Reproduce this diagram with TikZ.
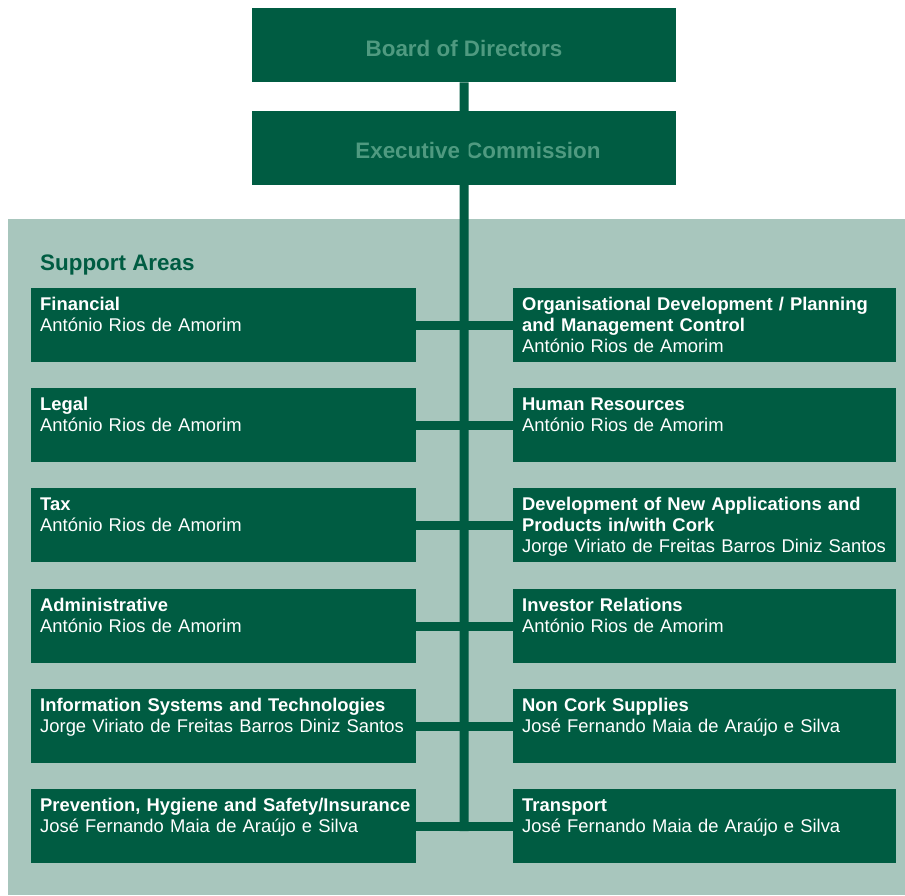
\documentclass[tikz,border=0pt]{standalone}
\usepackage{fontspec}
\setmainfont{Liberation Sans}
\usetikzlibrary{calc}
\definecolor{corkgreen}{HTML}{005C42}
\definecolor{panelgreen}{HTML}{A8C6BD}
\definecolor{titlegreen}{HTML}{4F9A80}
\begin{document}
\begin{tikzpicture}[x=1pt,y=-1pt,
  topbox/.style={fill=corkgreen, draw=none, anchor=north west, inner sep=0pt,
    minimum width=424pt, minimum height=74pt},
  unitbox/.style={fill=corkgreen, draw=none, anchor=north west, inner sep=0pt,
    minimum height=74pt},
  leftbox/.style={unitbox, minimum width=385pt},
  rightbox/.style={unitbox, minimum width=383pt},
  toptitle/.style={anchor=base, inner sep=0pt, text=titlegreen,
    font=\fontsize{22.4}{26}\selectfont\bfseries},
  unittext/.style={anchor=base west, inner sep=0pt, text=white, align=left,
    text width=380pt, font=\fontsize{18.4}{21}\selectfont},
  link/.style={draw=corkgreen, line width=9pt, line cap=butt}
]
\useasboundingbox (0,0) rectangle (905,895);

% light panel holding the support areas
\fill[panelgreen] (8,219) rectangle (905,895);

% governing bodies
\node[topbox] (board) at (252,8) {};
\node[topbox] (exec) at (252,111) {};
\node[toptitle] (boardtxt) at (464,56) {Board of Directors};
\node[toptitle] (exectxt) at (478,158) {Executive Commission};

\node[anchor=base west, inner sep=0pt, text=corkgreen,
  font=\fontsize{22.4}{26}\selectfont\bfseries] (support) at (40,270) {Support Areas};

% central trunk
\coordinate (trunkend) at (464,831);
\draw[link] (board.south) -- (trunkend);

% support area boxes
\foreach \i/\t in {1/288,2/388,3/488,4/589,5/689,6/789}{
  \node[leftbox] (l\i) at (31,\t) {};
  \node[rightbox] (r\i) at (513,\t) {};
  \draw[link] (l\i.east) -- (r\i.west);
}

% left column texts
\node[unittext] (l1t) at ($(l1.north west)+(9,22)$) {\textbf{Financial}\\António Rios de Amorim};
\node[unittext] (l2t) at ($(l2.north west)+(9,22)$) {\textbf{Legal}\\António Rios de Amorim};
\node[unittext] (l3t) at ($(l3.north west)+(9,22)$) {\textbf{Tax}\\António Rios de Amorim};
\node[unittext] (l4t) at ($(l4.north west)+(9,22)$) {\textbf{Administrative}\\António Rios de Amorim};
\node[unittext] (l5t) at ($(l5.north west)+(9,22)$) {\textbf{Information Systems and Technologies}\\Jorge Viriato de Freitas Barros Diniz Santos};
\node[unittext] (l6t) at ($(l6.north west)+(9,22)$) {\textbf{Prevention, Hygiene and Safety/Insurance}\\José Fernando Maia de Araújo e Silva};

% right column texts
\node[unittext] (r1t) at ($(r1.north west)+(9,22)$) {\textbf{Organisational Development / Planning}\\\textbf{and Management Control}\\António Rios de Amorim};
\node[unittext] (r2t) at ($(r2.north west)+(9,22)$) {\textbf{Human Resources}\\António Rios de Amorim};
\node[unittext] (r3t) at ($(r3.north west)+(9,22)$) {\textbf{Development of New Applications and}\\\textbf{Products in/with Cork}\\Jorge Viriato de Freitas Barros Diniz Santos};
\node[unittext] (r4t) at ($(r4.north west)+(9,22)$) {\textbf{Investor Relations}\\António Rios de Amorim};
\node[unittext] (r5t) at ($(r5.north west)+(9,22)$) {\textbf{Non Cork Supplies}\\José Fernando Maia de Araújo e Silva};
\node[unittext] (r6t) at ($(r6.north west)+(9,22)$) {\textbf{Transport}\\José Fernando Maia de Araújo e Silva};
\end{tikzpicture}
\end{document}
